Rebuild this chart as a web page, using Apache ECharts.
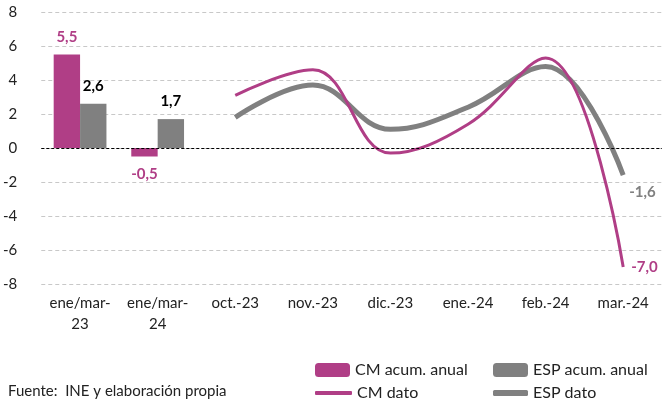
<!DOCTYPE html>
<html>
<head>
<meta charset="utf-8">
<script src="https://cdn.jsdelivr.net/npm/echarts@6/dist/echarts.min.js"></script>
<style>
  html, body { margin: 0; padding: 0; background: #fff; }
  #chart { width: 662px; height: 406px; }
</style>
</head>
<body>
<div id="chart"></div>
<script>
var categories = ['ene/mar-\n23', 'ene/mar-\n24', 'oct.-23', 'nov.-23', 'dic.-23', 'ene.-24', 'feb.-24', 'mar.-24'];
var cmAcum = [5.5, -0.5, '-', '-', '-', '-', '-', '-'];
var espAcum = [2.6, 1.7, '-', '-', '-', '-', '-', '-'];
var cmDato = ['-', '-', 3.1, 4.6, -0.3, 1.4, 5.3, -7.0];
var espDato = ['-', '-', 1.8, 3.7, 1.1, 2.4, 4.8, -1.6];

var MAG = '#B03E86';
var GRY = '#808080';
var FONT = 'Lato';

function comma(v) {
    return Number(v).toFixed(1).replace('.', ',');
}

// bar labels: above if positive, below if negative
function barData(arr, color) {
    return arr.map(function(v) {
        if (v === '-') return v;
        return {
            value: v,
            label: {
                show: true,
                position: v < 0 ? 'bottom' : 'top',
                distance: 10,
                color: color,
                fontWeight: 'bold',
                fontSize: 15,
                fontFamily: FONT,
                formatter: function(p) { return comma(p.value); }
            }
        };
    });
}

function endLabel(color, offset) {
    return {
        show: true,
        color: color,
        fontWeight: 'bold',
        fontSize: 15,
        fontFamily: FONT,
        offset: offset,
        formatter: function(p) { return comma(p.value); }
    };
}

var chart = echarts.init(document.getElementById('chart'));
var legendText = { fontSize: 16, fontFamily: FONT, color: '#222' };
var option = {
    backgroundColor: '#fff',
    animation: false,
    textStyle: { fontFamily: FONT },
    grid: { left: 40, right: 0, top: 12, height: 272 },
    legend: [
        { data: ['CM acum. anual'], left: 315, top: 362, itemWidth: 35, itemHeight: 14, itemGap: 4, textStyle: legendText, padding: 0 },
        { data: ['ESP acum. anual'], left: 493, top: 362, itemWidth: 35, itemHeight: 14, itemGap: 4, textStyle: legendText, padding: 0 },
        { data: [{ name: 'CM dato', icon: 'roundRect' }], left: 315, top: 385, itemWidth: 37, itemHeight: 4, textStyle: legendText, padding: 0 },
        { data: [{ name: 'ESP dato', icon: 'roundRect' }], left: 493, top: 385, itemWidth: 35, itemHeight: 6, textStyle: legendText, padding: 0 }
    ],
    graphic: [{
        type: 'text',
        left: 8,
        top: 384,
        style: { text: 'Fuente:  INE y elaboración propia', fontSize: 15, fontFamily: FONT, fill: '#222' }
    }],
    xAxis: {
        type: 'category',
        data: categories,
        axisLine: { show: false },
        axisTick: { show: false },
        axisLabel: { color: '#222', fontSize: 15, fontFamily: FONT, margin: 9, lineHeight: 21, interval: 0 }
    },
    yAxis: {
        type: 'value',
        min: -8,
        max: 8,
        interval: 2,
        axisLine: { show: false },
        axisTick: { show: false },
        axisLabel: { color: '#222', fontSize: 15, fontFamily: FONT, margin: 24 },
        splitLine: { lineStyle: { color: '#c8c8c8', type: [4, 3], width: 1 } }
    },
    series: [
        {
            name: 'CM acum. anual',
            type: 'bar',
            data: barData(cmAcum, MAG),
            itemStyle: { color: MAG },
            barGap: 0,
            barCategoryGap: '32%',
            markLine: {
                silent: true,
                symbol: 'none',
                label: { show: false },
                lineStyle: { color: '#000', type: [3, 2], width: 1 },
                data: [{ yAxis: 0 }]
            }
        },
        {
            name: 'ESP acum. anual',
            type: 'bar',
            data: barData(espAcum, '#000'),
            itemStyle: { color: GRY }
        },
        {
            name: 'CM dato',
            type: 'line',
            data: cmDato,
            smooth: 0.4,
            symbol: 'none',
            lineStyle: { color: MAG, width: 3 },
            itemStyle: { color: MAG },
            endLabel: endLabel(MAG, [0, 0]),
            z: 3
        },
        {
            name: 'ESP dato',
            type: 'line',
            data: espDato,
            smooth: 0.4,
            symbol: 'none',
            lineStyle: { color: GRY, width: 5 },
            itemStyle: { color: GRY },
            endLabel: endLabel(GRY, [-2, 17]),
            z: 2
        }
    ]
};
chart.setOption(option);
</script>
</body>
</html>
